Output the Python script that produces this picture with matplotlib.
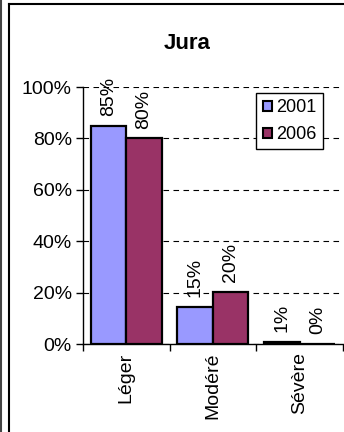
import matplotlib
matplotlib.use("Agg")
import matplotlib.pyplot as plt
from matplotlib.patches import Patch
from matplotlib.lines import Line2D
import numpy as np

# data
categories = ["Léger", "Modéré", "Sévère"]
years = ["2001", "2006"]
values_2001 = [85, 14.5, 0.7]
values_2006 = [80, 20.3, 0]
labels_2001 = ["85%", "15%", "1%"]
labels_2006 = ["80%", "20%", "0%"]

colors = ["#9999FF", "#993366"]
FONT = "Liberation Sans"
FS = 14

fig = plt.figure(figsize=(3.44, 4.32), dpi=100)
ax = fig.add_axes([0.241, 0.2037, 0.756, 0.5949])

x = np.arange(len(categories))
w = 0.41
series = [values_2001, values_2006]
series_labels = [labels_2001, labels_2006]
offsets = [-w / 2, w / 2]

for vals, labs, off, col in zip(series, series_labels, offsets, colors):
    bars = ax.bar(x + off, vals, width=w, color=col, edgecolor="black",
                  linewidth=1.6, zorder=3)
    for b, lab in zip(bars, labs):
        ax.annotate(lab, (b.get_x() + b.get_width() / 2, b.get_height()),
                    xytext=(0, 7), textcoords="offset points",
                    rotation=90, ha="center", va="bottom", fontsize=FS,
                    family=FONT)

ax.set_xlim(-0.5, 2.5)
ax.set_ylim(0, 100)
ax.set_yticks(range(0, 101, 20))
ax.set_yticklabels([f"{v}%" for v in range(0, 101, 20)],
                   fontsize=FS, family=FONT)
ax.yaxis.grid(True, linestyle=(0, (5, 4)), color="black", linewidth=0.8)
ax.set_axisbelow(True)

ax.set_xticks(x)
ax.set_xticklabels(categories, rotation=90, fontsize=FS,
                   family=FONT, va="top")
ax.set_xticks(np.arange(-0.5, 2.6, 1), minor=True)
ax.tick_params(axis="x", which="major", length=0, pad=6)
ax.tick_params(axis="x", which="minor", length=5, direction="out", width=1)
ax.tick_params(axis="y", length=5, direction="out", width=1, pad=3)

for s in ["top", "right"]:
    ax.spines[s].set_visible(False)
ax.spines["left"].set_linewidth(1)
ax.spines["bottom"].set_linewidth(1)

handles = [Patch(facecolor=c, edgecolor="black", linewidth=1.5) for c in colors]
leg = ax.legend(handles, years, loc="upper left",
                bbox_to_anchor=(0.667, 0.977),
                prop={"family": FONT, "size": 13},
                handlelength=0.5, handleheight=0.5, handletextpad=0.25,
                borderpad=0.35, labelspacing=0.55, borderaxespad=0,
                fancybox=False, framealpha=1, edgecolor="black")
leg.get_frame().set_linewidth(1)

fig.text(0.545, 0.9, "Jura", ha="center", va="center", fontsize=16,
         fontweight="bold", family=FONT)

# outer frame of the chart sheet
fig.add_artist(Line2D([0.025, 0.025], [0, 0.991], color="black", lw=1.5,
                      transform=fig.transFigure))
fig.add_artist(Line2D([0.025, 1], [0.991, 0.991], color="black", lw=1.5,
                      transform=fig.transFigure))
fig.add_artist(Line2D([0.004, 0.004], [0, 1], color="#444444", lw=1.5,
                      transform=fig.transFigure))

fig.savefig("out.png", dpi=100)
